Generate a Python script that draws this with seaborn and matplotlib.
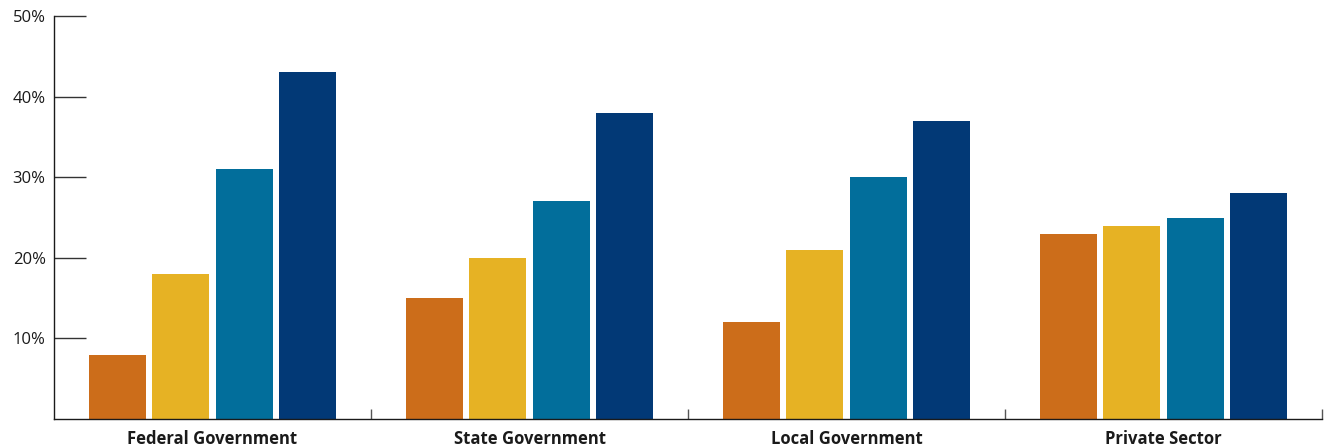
import matplotlib
matplotlib.use("Agg")
import matplotlib.pyplot as plt
import seaborn as sns
import pandas as pd
from matplotlib.ticker import FixedLocator, FuncFormatter

categories = ["Federal Government", "State Government", "Local Government", "Private Sector"]
series_names = ["Series 1", "Series 2", "Series 3", "Series 4"]
series_1 = [8, 15, 12, 23]
series_2 = [18, 20, 21, 24]
series_3 = [31, 27, 30, 25]
series_4 = [43, 38, 37, 28]
y_ticks = [10, 20, 30, 40, 50]
colors = ["#CC6D1A", "#E6B224", "#026E9B", "#023976"]

rows = []
for name, vals in zip(series_names, [series_1, series_2, series_3, series_4]):
    for c, v in zip(categories, vals):
        rows.append({"category": c, "series": name, "value": v})
df = pd.DataFrame(rows)

sns.set_style("white")
plt.rcParams["font.family"] = ["Open Sans", "DejaVu Sans"]

fig = plt.figure(figsize=(13.26, 4.48), dpi=100)
ax = fig.add_axes([54/1326, 29/448, (1322-54)/1326, (419-16)/448])

sns.barplot(data=df, x="category", y="value", hue="series", order=categories,
            hue_order=series_names, palette=colors, width=0.8, gap=0.1,
            saturation=1, legend=False, linewidth=0, ax=ax)

ax.set_xlim(-0.5, 3.5)
ax.set_ylim(0, 50)
ax.set_xlabel("")
ax.set_ylabel("")

for s in ["top", "right"]:
    ax.spines[s].set_visible(False)
for s in ["left", "bottom"]:
    ax.spines[s].set_color("#1a1a1a")
    ax.spines[s].set_linewidth(1.0)

ax.yaxis.set_major_locator(FixedLocator(y_ticks))
ax.yaxis.set_major_formatter(FuncFormatter(lambda v, p: f"{int(v)}%"))
ax.tick_params(axis="y", which="major", left=True, direction="in", length=23, width=1.0,
               color="#333333", labelsize=12, pad=6, labelcolor="#1a1a1a")

ax.set_xticks(range(len(categories)))
ax.set_xticklabels(categories, fontweight="bold", fontsize=12, color="#1a1a1a")
ax.tick_params(axis="x", which="major", bottom=False, length=0, pad=8)
ax.set_xticks([0.5, 1.5, 2.5, 3.5], minor=True)
ax.tick_params(axis="x", which="minor", bottom=True, direction="in", length=7, width=1.0,
               color="#555555")

ax.grid(False)
fig.savefig("out.png", dpi=100)
